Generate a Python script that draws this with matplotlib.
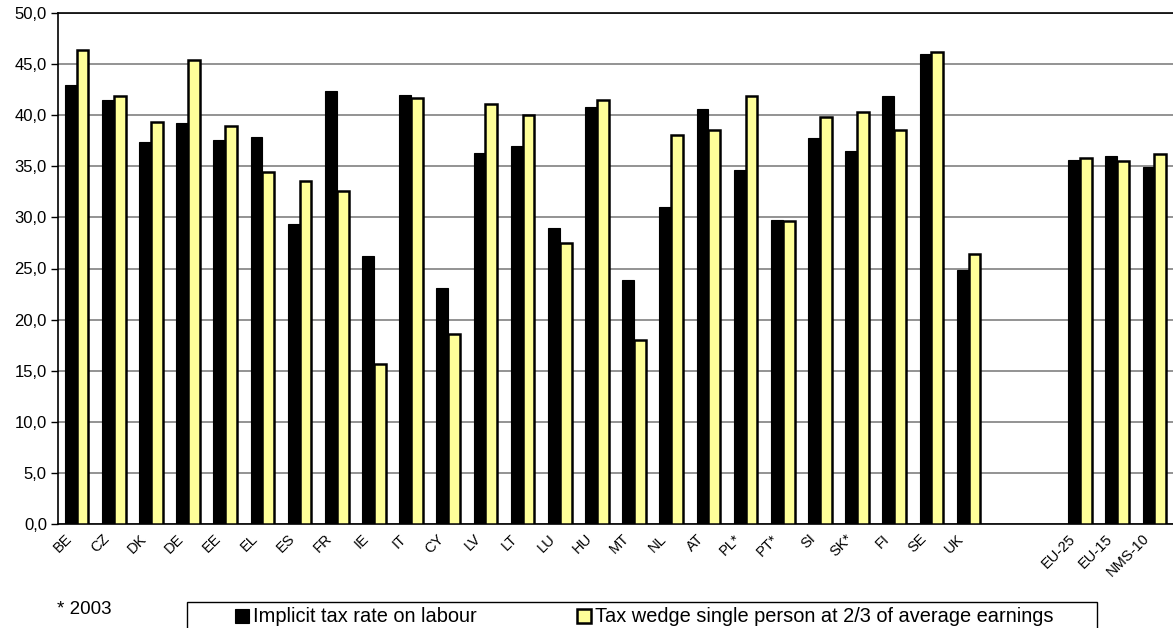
import numpy as np
import matplotlib.pyplot as plt
from matplotlib.patches import Rectangle
from matplotlib.transforms import ScaledTranslation

plt.rcParams['font.family'] = ['Liberation Sans', 'DejaVu Sans']

labels = ["BE", "CZ", "DK", "DE", "EE", "EL", "ES", "FR", "IE", "IT", "CY", "LV", "LT",
          "LU", "HU", "MT", "NL", "AT", "PL*", "PT*", "SI", "SK*", "FI", "SE", "UK",
          "", "", "EU-25", "EU-15", "NMS-10"]

implicit_rate = [43.0, 41.5, 37.35, 39.2, 37.6, 37.9, 29.4, 42.4, 26.25, 42.0, 23.1, 36.3, 37.0,
                 29.0, 40.8, 23.9, 31.0, 40.6, 34.6, 29.75, 37.8, 36.5, 41.9, 45.95, 24.85,
                 np.nan, np.nan, 35.6, 36.05, 34.9]
tax_wedge = [46.4, 41.85, 39.3, 45.4, 38.9, 34.4, 33.6, 32.6, 15.7, 41.7, 18.6, 41.1, 40.0,
             27.5, 41.5, 18.0, 38.1, 38.6, 41.9, 29.6, 39.8, 40.3, 38.6, 46.2, 26.4,
             np.nan, np.nan, 35.85, 35.55, 36.2]

W, H = 1173, 628
x = np.arange(len(labels))
w = 0.32

fig = plt.figure(figsize=(W / 100, H / 100), dpi=100)
ax = fig.add_axes([58 / W, 1 - 524 / H, 1 - 58 / W, (524 - 13) / H])

ax.bar(x - w / 2, implicit_rate, w, color="black", edgecolor="black", linewidth=0.8,
       label="Implicit tax rate on labour", zorder=3)
ax.bar(x + w / 2, tax_wedge, w, color="#FFFF99", edgecolor="black", linewidth=1.8,
       label="Tax wedge single person at 2/3 of average earnings", zorder=3)

ax.set_xlim(-0.5, len(labels) - 0.5)
ax.set_ylim(0, 50)
yt = np.arange(0, 50.1, 5)
ax.set_yticks(yt)
ax.set_yticklabels([f"{v:.1f}".replace(".", ",") for v in yt], fontsize=12)
ax.yaxis.grid(True, color="#808080", linewidth=1.2, zorder=0)
ax.tick_params(axis="y", direction="out", length=5, width=1, pad=3)

ax.set_xticks(x)
ax.set_xticklabels(labels, rotation=45, ha="right", va="center", rotation_mode="anchor",
                   fontsize=10.5)
ax.tick_params(axis="x", length=0, pad=9)
shift = ScaledTranslation(-7 / 100, 0, fig.dpi_scale_trans)
for t in ax.get_xticklabels():
    t.set_transform(t.get_transform() + shift)

for s in ["left", "top", "bottom"]:
    ax.spines[s].set_color("black")
    ax.spines[s].set_linewidth(1.2)
ax.spines["right"].set_visible(False)

fig.text(57 / W, 1 - 609 / H, "* 2003", fontsize=13.5, va="center")

# legend frame, cut by the bottom edge like in the original
fig.patches.append(Rectangle((187 / W, -0.05), (1097 - 187) / W, 0.05 + 1 - 602 / H,
                             transform=fig.transFigure, fill=False, edgecolor="black",
                             linewidth=1.0))
fig.legend(loc="center left", bbox_to_anchor=(235 / W, 1 - 617 / H), ncol=2, fontsize=14.4,
           frameon=False, handlelength=0.7, handleheight=0.7, handletextpad=0.2,
           columnspacing=5.0, borderaxespad=0, borderpad=0)

fig.savefig("out.png", dpi=100)
